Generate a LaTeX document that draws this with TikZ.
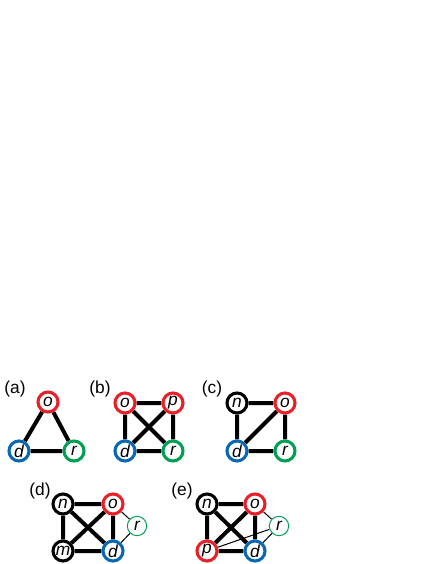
\documentclass[tikz,border=0pt]{standalone}
\usepackage{fontspec}
\setmainfont{Liberation Sans}
\usetikzlibrary{backgrounds}
\definecolor{cred}{RGB}{232,32,40}
\definecolor{cblue}{RGB}{10,104,178}
\definecolor{cgreen}{RGB}{0,160,84}
\begin{document}
\begin{tikzpicture}[x=0.75pt,y=-0.75pt,
  vtx/.style={circle,draw,fill=white,line width=2.3pt,minimum size=15pt,inner sep=0pt,font=\fontsize{13}{13}\selectfont\itshape},
  thinvtx/.style={circle,draw,fill=white,line width=0.75pt,minimum size=14.5pt,inner sep=0pt,font=\fontsize{13}{13}\selectfont\itshape},
  red/.style={draw=cred}, blue/.style={draw=cblue}, grn/.style={draw=cgreen}, blk/.style={draw=black},
  edge/.style={line width=3pt},
  thinedge/.style={line width=0.75pt},
  lab/.style={font=\fontsize{13}{13}\selectfont}]
\useasboundingbox (0,0) rectangle (436,564);
% (a)
\node[lab] (la) at (15,389) {(a)};
\node[vtx,red] (ao) at (48,402) {o};
\node[vtx,blue] (ad) at (19,451) {d};
\node[vtx,grn] (ar) at (74,451) {r};
% (b)
\node[lab] (lb) at (100,389) {(b)};
\node[vtx,red] (bo) at (125,403) {o};
\node[vtx,red] (bp) at (173,403) {p};
\node[vtx,blue] (bd) at (125,451) {d};
\node[vtx,grn] (br) at (173,451) {r};
% (c)
\node[lab] (lc) at (212,389) {(c)};
\node[vtx,blk] (cn) at (237,403) {n};
\node[vtx,red] (co) at (285,403) {o};
\node[vtx,blue] (cd) at (237,451) {d};
\node[vtx,grn] (cr) at (285,451) {r};
% (d)
\node[lab] (ld) at (40,491) {(d)};
\node[vtx,blk] (dn) at (63,504) {n};
\node[vtx,red] (do) at (113,504) {o};
\node[thinvtx,grn] (dr) at (137,526) {r};
\node[vtx,blk] (dm) at (63,551) {m};
\node[vtx,blue] (dd) at (113,551) {d};
% (e)
\node[lab] (le) at (182,491) {(e)};
\node[vtx,blk] (en) at (207,504) {n};
\node[vtx,red] (eo) at (255,504) {o};
\node[thinvtx,grn] (er) at (279,526) {r};
\node[vtx,red] (ep) at (207,551) {p};
\node[vtx,blue] (ed) at (255,551) {d};
\begin{scope}[on background layer]
\draw[edge] (ao) -- (ad) (ao) -- (ar) (ad) -- (ar);
\draw[edge] (bo) -- (bp) (bo) -- (bd) (bo) -- (br) (bp) -- (bd) (bp) -- (br) (bd) -- (br);
\draw[edge] (cn) -- (co) (cn) -- (cd) (co) -- (cd) (co) -- (cr) (cd) -- (cr);
\draw[edge] (dn) -- (do) (dn) -- (dm) (dn) -- (dd) (do) -- (dm) (do) -- (dd) (dm) -- (dd);
\draw[thinedge] (do) -- (dr) (dd) -- (dr);
\draw[edge] (en) -- (eo) (en) -- (ep) (en) -- (ed) (eo) -- (ep) (eo) -- (ed) (ep) -- (ed);
\draw[thinedge] (eo) -- (er) (ed) -- (er) (ep) -- (er);
\end{scope}
\end{tikzpicture}
\end{document}
